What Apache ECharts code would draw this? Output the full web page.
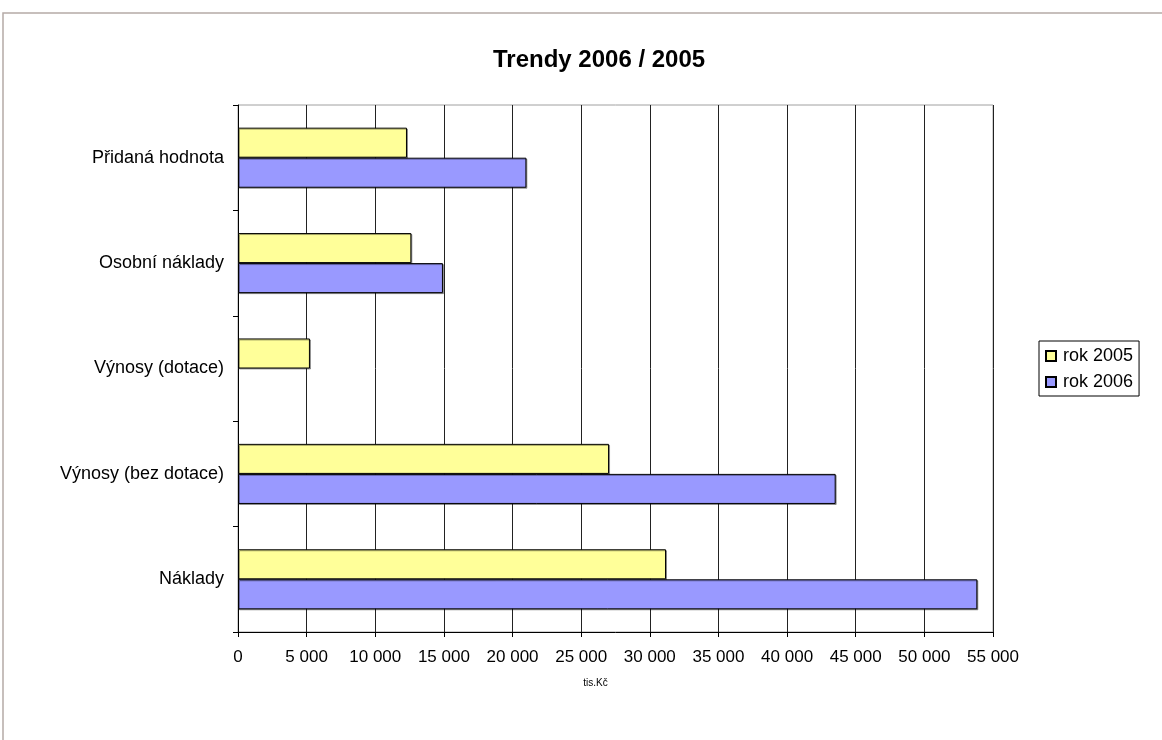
<!DOCTYPE html>
<html lang="cs">
  <head>
    <meta charset="UTF-8" />
    <title>Trendy 2006 / 2005</title>
    <script src="https://cdn.jsdelivr.net/npm/echarts@6/dist/echarts.min.js"></script>
    <style>
      html, body { margin: 0; padding: 0; background: #fff; }
    </style>
  </head>
  <body>
    <div id="trendChart" style="width: 1162px; height: 740px"></div>

    <script type="text/javascript">
      // categories listed bottom -> top (category y axis starts at bottom)
      const categories = [
        "Náklady",
        "Výnosy (bez dotace)",
        "Výnosy (dotace)",
        "Osobní náklady",
        "Přidaná hodnota",
      ];
      const rok2005 = [31180, 27030, 5240, 12630, 12310];
      const rok2006 = [53860, 43540, null, 14930, 21010]; // no 2006 subsidy value
      const xTicks = { min: 0, max: 55000, step: 5000 };

      const chart = echarts.init(document.getElementById("trendChart"));

      // "5 000" style thousands
      function fmt(v) {
        return String(v).replace(/\B(?=(\d{3})+(?!\d))/g, " ");
      }

      const font = "Liberation Sans, Arial, sans-serif";

      let options = {
        backgroundColor: "#fff",
        animation: false,
        textStyle: { fontFamily: font },
        graphic: [
          {
            type: "rect",
            shape: { x: 3, y: 13, width: 1200, height: 800 },
            style: { fill: "none", stroke: "#b5aba7", lineWidth: 1.5 },
            silent: true,
          },
        ],
        title: {
          text: "Trendy 2006 / 2005",
          left: 488,
          top: 43,
          textStyle: { fontFamily: font, fontSize: 24, fontWeight: "bold", color: "#000" },
        },
        legend: {
          data: ["rok 2005", "rok 2006"],
          orient: "vertical",
          left: 1039,
          top: 341,
          padding: [6, 6, 5, 6],
          itemGap: 8,
          itemWidth: 10,
          itemHeight: 10,
          icon: "rect",
          borderColor: "#000",
          borderWidth: 1,
          textStyle: { fontFamily: font, fontSize: 18, color: "#000", padding: [0, 0, 0, 2] },
        },
        grid: {
          left: 238,
          right: 169,
          top: 105,
          bottom: 108,
          show: true,
          borderColor: "#a0a0a0",
          borderWidth: 1,
        },
        xAxis: {
          type: "value",
          min: xTicks.min,
          max: xTicks.max,
          interval: xTicks.step,
          name: "tis.Kč",
          nameLocation: "middle",
          nameGap: 46,
          nameTextStyle: { fontFamily: font, fontSize: 10, color: "#000", padding: [0, 40, 0, 0] },
          axisLine: { show: true, lineStyle: { color: "#000" } },
          axisTick: { show: true, length: 5, lineStyle: { color: "#000" } },
          axisLabel: {
            margin: 17,
            fontSize: 17,
            color: "#000",
            formatter: fmt,
          },
          splitLine: { show: true, lineStyle: { color: "#222", width: 1 } },
        },
        yAxis: {
          type: "category",
          data: categories,
          axisLine: { show: true, lineStyle: { color: "#000" } },
          axisTick: { show: true, length: 5, lineStyle: { color: "#000" } },
          axisLabel: { margin: 14, fontSize: 18, color: "#000" },
          splitLine: { show: false },
        },
        series: [
          {
            name: "rok 2005",
            type: "bar",
            data: rok2005,
            barGap: "0%",
            barCategoryGap: "43%",
            itemStyle: {
              color: "#ffff99",
              borderColor: "#000",
              borderWidth: 1,
              shadowColor: "rgba(0,0,0,0.35)",
              shadowOffsetX: 1,
              shadowOffsetY: 1,
            },
          },
          {
            name: "rok 2006",
            type: "bar",
            data: rok2006,
            barGap: "0%",
            barCategoryGap: "43%",
            itemStyle: {
              color: "#9999ff",
              borderColor: "#000",
              borderWidth: 1,
              shadowColor: "rgba(0,0,0,0.35)",
              shadowOffsetX: 1,
              shadowOffsetY: 1,
            },
          },
        ],
      };

      chart.setOption(options);
    </script>
  </body>
</html>
